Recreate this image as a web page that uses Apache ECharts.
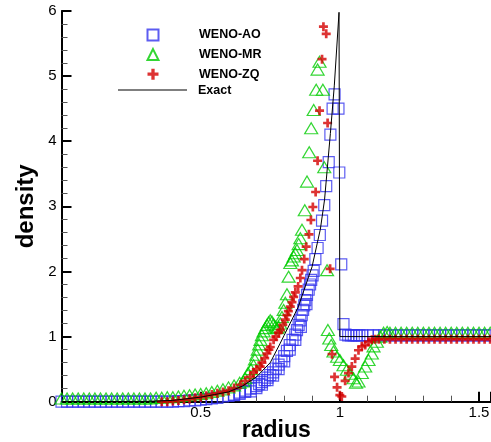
<!DOCTYPE html>
<html>
<head>
<meta charset="utf-8">
<script src="https://cdn.jsdelivr.net/npm/echarts@6/dist/echarts.min.js"></script>
<style>
  html, body { margin: 0; padding: 0; background: #fff; }
  #chart { width: 491px; height: 442px; }
</style>
</head>
<body>
<div id="chart"></div>
<script>
  // WENO-AO, [radius, density]
  const aoPts = [
    [0.00,0.00],[0.02,0.00],[0.04,0.00],[0.06,0.00],[0.08,0.00],[0.10,0.00],[0.12,0.00],[0.14,0.00],
    [0.16,0.00],[0.18,0.00],[0.20,0.00],[0.22,0.00],[0.24,0.00],[0.26,0.00],[0.28,0.00],[0.30,0.00],
    [0.32,0.00],[0.34,0.00],[0.36,0.00],[0.38,0.00],[0.40,0.00],[0.42,0.01],[0.44,0.01],[0.46,0.02],
    [0.48,0.02],[0.50,0.03],[0.52,0.04],[0.54,0.05],[0.56,0.06],[0.58,0.08],[0.60,0.09],[0.62,0.11],
    [0.64,0.14],[0.66,0.17],[0.68,0.20],[0.70,0.24],[0.71,0.27],[0.72,0.30],[0.73,0.33],[0.74,0.37],
    [0.75,0.41],[0.76,0.45],[0.77,0.51],[0.78,0.57],[0.79,0.63],[0.80,0.70],[0.81,0.78],[0.82,0.87],
    [0.83,0.95],[0.84,1.03],[0.846,1.10],[0.852,1.18],[0.858,1.25],[0.863,1.33],[0.868,1.41],[0.872,1.48],
    [0.876,1.56],[0.882,1.64],[0.888,1.72],[0.893,1.80],[0.897,1.87],[0.902,1.94],[0.906,2.01],[0.912,2.19],
    [0.920,2.36],[0.928,2.56],[0.936,2.78],[0.944,3.02],[0.951,3.31],[0.960,3.68],[0.966,4.10],[0.974,4.50],
    [0.981,4.72],[0.995,4.50],[0.998,3.52],[1.005,2.11],[1.013,1.19],
    [0.70,0.21],[0.74,0.33],[0.78,0.50],[0.82,0.80],[0.84,0.95],[0.66,0.15],[0.62,0.10],
    [0.68,0.16],[0.72,0.26],[0.76,0.40],[0.80,0.62],[0.64,0.12],[0.86,1.15],[0.88,1.50],
    [1.02,1.03],[1.03,1.02],[1.04,1.02],[1.05,1.02],[1.06,1.02],[1.07,1.02],[1.08,1.02],[1.10,1.02],
    [1.12,1.02],[1.14,1.02],[1.16,1.02],[1.18,1.02],[1.20,1.02],[1.22,1.02],[1.24,1.02],[1.26,1.02],
    [1.28,1.02],[1.30,1.02],[1.32,1.02],[1.34,1.02],[1.36,1.02],[1.38,1.02],[1.40,1.02],[1.42,1.02],
    [1.44,1.02],[1.46,1.02],[1.48,1.02],[1.50,1.02],[1.52,1.02],[1.54,1.02]
  ]

  // WENO-MR
  const mrPts = [
    [0.00,0.05],[0.02,0.05],[0.04,0.05],[0.06,0.05],[0.08,0.05],[0.10,0.05],[0.12,0.05],[0.14,0.05],
    [0.16,0.05],[0.18,0.05],[0.20,0.05],[0.22,0.05],[0.24,0.05],[0.26,0.05],[0.28,0.05],[0.30,0.05],
    [0.32,0.05],[0.34,0.06],[0.36,0.06],[0.38,0.07],[0.40,0.07],[0.42,0.08],[0.44,0.09],[0.46,0.10],
    [0.48,0.11],[0.50,0.12],[0.52,0.13],[0.54,0.15],[0.56,0.17],[0.58,0.19],[0.60,0.22],[0.62,0.25],
    [0.64,0.29],[0.654,0.31],[0.66,0.36],[0.67,0.44],[0.68,0.50],[0.69,0.56],[0.695,0.65],[0.70,0.72],
    [0.705,0.80],[0.71,0.88],[0.715,0.95],[0.72,1.02],[0.726,1.08],[0.732,1.13],[0.738,1.18],[0.744,1.22],
    [0.75,1.25],[0.756,1.23],[0.762,1.19],[0.768,1.15],[0.774,1.13],[0.78,1.15],[0.786,1.20],[0.792,1.30],
    [0.798,1.41],[0.804,1.52],[0.81,1.65],[0.816,1.92],[0.822,2.13],[0.828,2.17],[0.834,2.23],[0.84,2.28],
    [0.846,2.33],[0.852,2.42],[0.858,2.51],[0.864,2.64],[0.874,2.94],[0.882,3.38],[0.89,3.83],[0.897,4.20],
    [0.906,4.48],[0.915,4.79],[0.92,5.10],[0.927,5.22],[0.939,4.79],[0.944,3.60],[0.954,2.02],[0.957,1.10],
    [0.962,0.97],[0.969,0.87],[0.977,0.77],[0.99,0.69],[1.0,0.64],[1.013,0.56],[1.025,0.49],[1.037,0.43],
    [1.049,0.36],[1.058,0.29],[1.067,0.31],[1.079,0.44],[1.091,0.54],[1.103,0.64],[1.115,0.74],[1.121,0.85],
    [1.133,0.92],[1.145,1.00],[1.157,1.06],[1.17,1.07],[1.18,1.06],[1.20,1.06],[1.22,1.06],[1.24,1.06],
    [1.26,1.06],[1.28,1.06],[1.30,1.06],[1.32,1.06],[1.34,1.06],[1.36,1.06],[1.38,1.06],[1.40,1.06],
    [1.42,1.06],[1.44,1.06],[1.46,1.06],[1.48,1.06],[1.50,1.06],[1.52,1.06],[1.54,1.06]
  ]

  // WENO-ZQ
  const zqPts = [
    [0.00,-0.02],[0.02,-0.02],[0.04,-0.02],[0.06,-0.02],[0.08,-0.02],[0.10,-0.02],[0.12,-0.02],[0.14,-0.02],
    [0.16,-0.02],[0.18,-0.02],[0.20,-0.02],[0.22,-0.02],[0.24,-0.02],[0.26,-0.02],[0.28,-0.02],[0.30,-0.02],
    [0.32,-0.01],[0.34,-0.01],[0.36,0.00],[0.38,0.00],[0.40,0.01],[0.42,0.02],[0.44,0.03],[0.46,0.04],
    [0.48,0.06],[0.50,0.07],[0.52,0.09],[0.54,0.11],[0.56,0.13],[0.58,0.15],[0.60,0.17],[0.62,0.21],
    [0.643,0.26],[0.66,0.32],[0.678,0.38],[0.69,0.45],[0.70,0.50],[0.714,0.54],[0.72,0.60],[0.73,0.67],
    [0.738,0.74],[0.745,0.80],[0.75,0.84],[0.762,0.95],[0.77,1.00],[0.78,1.06],[0.786,1.10],[0.795,1.18],
    [0.804,1.26],[0.81,1.33],[0.815,1.39],[0.822,1.46],[0.828,1.53],[0.834,1.61],[0.84,1.68],[0.85,1.77],
    [0.858,1.90],[0.864,2.02],[0.872,2.19],[0.879,2.38],[0.889,2.57],[0.896,2.79],[0.903,2.99],[0.913,3.22],
    [0.920,3.70],[0.927,4.47],[0.936,5.26],[0.941,5.76],[0.951,5.65],[0.956,4.28],[0.965,2.04],[0.972,0.73],
    [0.981,0.38],[0.990,0.22],[1.000,0.10],[1.007,0.08],[1.019,0.32],[1.031,0.44],[1.043,0.54],[1.055,0.66],
    [1.067,0.79],[1.079,0.85],[1.091,0.87],[1.103,0.92],[1.115,0.95],[1.127,0.96],[1.14,0.96],[1.16,0.96],
    [1.18,0.96],[1.20,0.96],[1.22,0.96],[1.24,0.96],[1.26,0.96],[1.28,0.96],[1.30,0.96],[1.32,0.96],
    [1.34,0.96],[1.36,0.96],[1.38,0.96],[1.40,0.96],[1.42,0.96],[1.44,0.96],[1.46,0.96],[1.48,0.96],
    [1.50,0.96],[1.52,0.96],[1.54,0.96]
  ]

  // Exact solution
  const exactPts = [
    [0,0],[0.3,0.005],[0.4,0.02],[0.5,0.07],[0.55,0.11],[0.6,0.15],[0.65,0.24],[0.7,0.38],[0.75,0.6],
    [0.786,0.9],[0.8,1.02],[0.85,1.45],[0.9,2.07],[0.93,2.65],[0.945,3.1],[0.966,4.12],[0.98,4.85],
    [0.997,5.98],[1.0,6.0],[1.0,1.0],[1.6,1.0]
  ]

  const yTicks = [0, 1, 2, 3, 4, 5, 6]
  const xTicks = [0.5, 1, 1.5]

  const plusPath = 'path://M3.5,0H6.5V3.5H10V6.5H6.5V10H3.5V6.5H0V3.5H3.5Z'
  const font = 'Liberation Sans'
  const legendText = { fontFamily: font, fontWeight: 'bold', fontSize: 12.5, color: '#000' }

  const chart = echarts.init(document.getElementById('chart'))
  chart.setOption({
    animation: false,
    backgroundColor: '#fff',
    grid: { left: 61.5, right: 0, top: 11, bottom: 40.3, containLabel: false, outerBoundsMode: 'none' },
    legend: [
      {
        orient: 'vertical',
        left: 141.5,
        top: 23.5,
        itemWidth: 11,
        itemHeight: 11,
        itemGap: 6.6,
        textStyle: Object.assign({ padding: [0, 0, 0, 35.5] }, legendText),
        data: ['WENO-AO', 'WENO-MR', 'WENO-ZQ']
      },
      {
        orient: 'vertical',
        left: 113,
        top: 78.6,
        itemWidth: 69,
        itemHeight: 12,
        textStyle: Object.assign({ padding: [0, 0, 0, 6] }, legendText),
        data: [{ name: 'Exact', icon: 'path://M0,0H69V1H0Z' }]
      }
    ],
    xAxis: {
      type: 'value',
      min: 0,
      max: 1.543,
      interval: 0.5,
      name: 'radius',
      nameLocation: 'middle',
      nameGap: 17,
      nameMoveOverlap: false,
      nameTextStyle: { fontFamily: font, fontWeight: 'bold', fontSize: 23, color: '#000', verticalAlign: 'top' },
      axisLine: { lineStyle: { color: '#000', width: 2 } },
      axisTick: { inside: true, length: 10, lineStyle: { color: '#000', width: 2 } },
      minorTick: { show: true, splitNumber: 5, length: 6, lineStyle: { color: '#555', width: 1 } },
      axisLabel: {
        showMinLabel: false, showMaxLabel: false, fontFamily: font, fontSize: 15, color: '#000', margin: 4,
        formatter: v => (xTicks.includes(v) ? String(v) : '')
      },
      splitLine: { show: false }
    },
    yAxis: {
      type: 'value',
      min: 0,
      max: 6,
      interval: 1,
      name: 'density',
      nameLocation: 'middle',
      nameGap: 23,
      nameMoveOverlap: false,
      nameRotate: 90,
      nameTextStyle: { fontFamily: font, fontWeight: 'bold', fontSize: 24, color: '#000' },
      axisLine: { lineStyle: { color: '#000', width: 2 } },
      axisTick: { inside: true, length: 10, lineStyle: { color: '#000', width: 2 } },
      minorTick: { show: true, splitNumber: 5, length: 6, lineStyle: { color: '#555', width: 1 } },
      axisLabel: {
        fontFamily: font, fontSize: 15, color: '#000', margin: 5,
        formatter: v => (yTicks.includes(v) ? String(v) : '')
      },
      splitLine: { show: false }
    },
    series: [
      {
        name: 'WENO-AO',
        type: 'scatter',
        symbol: 'rect',
        symbolSize: 11,
        itemStyle: { color: 'rgba(0,0,0,0)', borderColor: '#3333ee', borderWidth: 1.2 },
        data: aoPts,
        z: 2
      },
      {
        name: 'WENO-MR',
        type: 'scatter',
        symbol: 'triangle',
        symbolSize: [13, 11],
        itemStyle: { color: 'rgba(0,0,0,0)', borderColor: '#00cc00', borderWidth: 1.2 },
        data: mrPts,
        z: 3
      },
      {
        name: 'WENO-ZQ',
        type: 'scatter',
        symbol: plusPath,
        symbolSize: 9,
        itemStyle: { color: '#d40000' },
        data: zqPts,
        z: 4
      },
      {
        name: 'Exact',
        type: 'line',
        symbol: 'none',
        lineStyle: { color: '#000', width: 1 },
        itemStyle: { color: '#000' },
        data: exactPts,
        z: 5
      }
    ]
  })
</script>
</body>
</html>
